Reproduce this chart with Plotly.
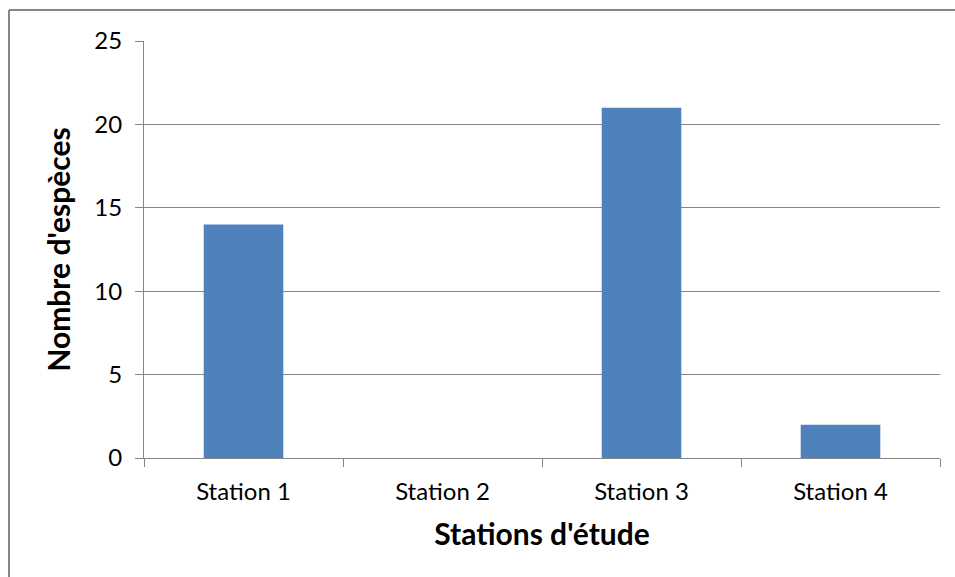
import plotly.graph_objects as go

# Species counts per study station
stations = ["Station 1", "Station 2", "Station 3", "Station 4"]
especes = [14, 0, 21, 2]
y_ticks = [0, 5, 10, 15, 20, 25]

W, H = 955, 577
L, R, T, B = 144, 15, 41, 119
pw, ph = W - L - R, H - T - B

grey = "#868686"
font_family = "Lato, Carlito, Calibri, sans-serif"

fig = go.Figure(
    go.Bar(
        x=stations,
        y=especes,
        marker=dict(color="#4F81BD", line=dict(width=0)),
        width=0.4,
    )
)

# Frame around the chart area (left and top edges)
fx = (9 - L) / pw
fy = 1 + (T - 10) / ph
fig.add_shape(type="line", xref="paper", yref="paper",
              x0=fx, x1=fx, y0=fy, y1=-0.5, line=dict(color=grey, width=2))
fig.add_shape(type="line", xref="paper", yref="paper",
              x0=fx, x1=1.5, y0=fy, y1=fy, line=dict(color=grey, width=2))

fig.update_layout(
    width=W, height=H,
    margin=dict(l=L, r=R, t=T, b=B),
    paper_bgcolor="white", plot_bgcolor="white",
    font=dict(family=font_family, color="black", size=24),
    showlegend=False,
    xaxis=dict(
        showline=True, linecolor=grey, linewidth=1,
        ticks="outside", tickson="boundaries", ticklen=8, tickcolor=grey,
        showgrid=False,
        tickfont=dict(size=24),
        ticklabelstandoff=12,
        title=dict(text="<b>Stations d'étude</b>", font=dict(size=30), standoff=20),
    ),
    yaxis=dict(
        range=[0, 25], tickvals=y_ticks,
        showline=True, linecolor=grey, linewidth=1,
        ticks="outside", ticklen=8, tickcolor=grey,
        showgrid=True, gridcolor=grey, gridwidth=1,
        zeroline=False,
        tickfont=dict(size=24),
        ticklabelstandoff=8,
        title=dict(text="<b>Nombre d'espèces</b>", font=dict(size=30), standoff=14),
    ),
)

fig.write_html("out.html")
